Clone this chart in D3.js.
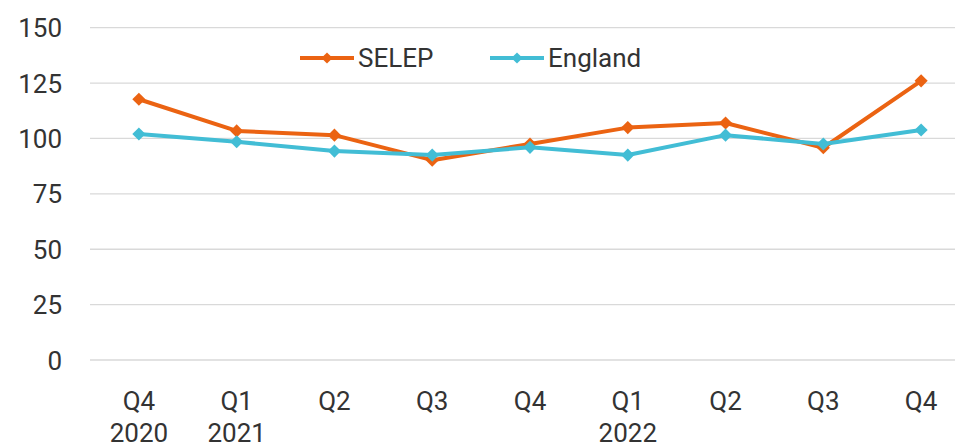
<!DOCTYPE html>
<html>
<head>
<meta charset="utf-8">
<script src="https://cdn.jsdelivr.net/npm/d3@7"></script>
<style>
  body { margin: 0; background: #fff; }
  svg text { font-family: Roboto, "Liberation Sans", sans-serif; fill: #333; }
</style>
</head>
<body>
<svg id="chart" width="955" height="447"></svg>
<script>
// data
var quarters = ["Q4", "Q1", "Q2", "Q3", "Q4", "Q1", "Q2", "Q3", "Q4"];
var years = ["2020", "2021", "", "", "", "2022", "", "", ""];
var selep = [117.7, 103.4, 101.5, 90.2, 97.5, 104.9, 107.0, 95.8, 126.0];
var england = [102.0, 98.5, 94.3, 92.5, 96.0, 92.5, 101.5, 97.5, 103.8];
var yTicks = [0, 25, 50, 75, 100, 125, 150];

var seriesList = [
    {name: "SELEP", values: selep, color: "#eb6312"},
    {name: "England", values: england, color: "#42bdd5"}
];

function draw_chart()
{
    var svg = d3.select("svg#chart");
    var margin = {left: 90, top: 27.7, bottom: 87},
        plotW = 880,
        plotH = 447 - margin.top - margin.bottom;

    var idx = d3.range(quarters.length);
    var x = d3.scaleBand().domain(idx).range([margin.left, margin.left + plotW]);
    var y = d3.scaleLinear().domain([0, 150]).range([margin.top + plotH, margin.top]);

    // gridlines
    svg.append("g")
        .selectAll("line")
        .data(yTicks)
        .enter()
        .append("line")
        .attr("x1", margin.left)
        .attr("x2", margin.left + plotW)
        .attr("y1", function(d) { return y(d); })
        .attr("y2", function(d) { return y(d); })
        .attr("stroke", "#d9d9d9")
        .attr("stroke-width", 1.3);

    // y axis labels
    var yAxis = svg.append("g")
        .attr("transform", "translate(" + (margin.left - 28) + ",0)")
        .call(d3.axisLeft(y).tickValues(yTicks).tickSize(0).tickPadding(0));
    yAxis.select(".domain").remove();
    yAxis.selectAll("text")
        .attr("font-size", "26px")
        .attr("fill", "#333")
        .attr("dy", "0.35em");

    // x axis labels, two rows
    var xLab = svg.append("g");
    xLab.selectAll("text.q")
        .data(idx)
        .enter()
        .append("text")
        .attr("class", "q")
        .attr("x", function(d) { return x(d) + x.bandwidth() / 2; })
        .attr("y", 410)
        .attr("text-anchor", "middle")
        .attr("font-size", "26px")
        .text(function(d) { return quarters[d]; });
    xLab.selectAll("text.yr")
        .data(idx.filter(function(d) { return years[d] !== ""; }))
        .enter()
        .append("text")
        .attr("class", "yr")
        .attr("x", function(d) { return x(d) + x.bandwidth() / 2; })
        .attr("y", 442)
        .attr("text-anchor", "middle")
        .attr("font-size", "26px")
        .text(function(d) { return years[d]; });

    var line = d3.line()
        .x(function(d, i) { return x(i) + x.bandwidth() / 2; })
        .y(function(d) { return y(d); });
    var diamond = d3.symbol().type(d3.symbolDiamond2).size(110);

    seriesList.forEach(function(s) {
        var g = svg.append("g");
        g.append("path")
            .datum(s.values)
            .attr("d", line)
            .attr("fill", "none")
            .attr("stroke", s.color)
            .attr("stroke-width", 4)
            .attr("stroke-linejoin", "round");
        g.selectAll("path.mark")
            .data(s.values)
            .enter()
            .append("path")
            .attr("class", "mark")
            .attr("d", diamond)
            .attr("transform", function(d, i) {
                return "translate(" + (x(i) + x.bandwidth() / 2) + "," + y(d) + ")";
            })
            .attr("fill", s.color);
    });

    // legend
    var legX = [300, 490];
    var leg = svg.append("g").selectAll("g")
        .data(seriesList)
        .enter()
        .append("g")
        .attr("transform", function(d, i) { return "translate(" + legX[i] + ",58)"; });
    leg.append("line")
        .attr("x1", 0).attr("x2", 54)
        .attr("stroke", function(d) { return d.color; })
        .attr("stroke-width", 4);
    leg.append("path")
        .attr("d", d3.symbol().type(d3.symbolDiamond2).size(80))
        .attr("transform", "translate(27,0)")
        .attr("fill", function(d) { return d.color; });
    leg.append("text")
        .attr("x", 58)
        .attr("dy", "0.35em")
        .attr("font-size", "26px")
        .text(function(d) { return d.name; });
}

draw_chart();
</script>
</body>
</html>
